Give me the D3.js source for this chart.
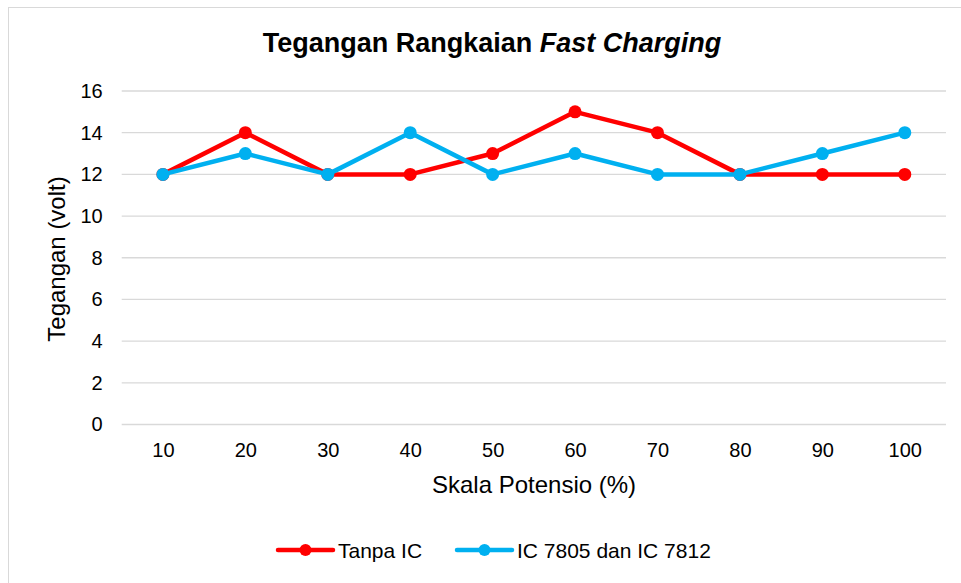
<!DOCTYPE html>
<html><head><meta charset="utf-8">
<script src="https://cdn.jsdelivr.net/npm/d3@7"></script>
<style>
html,body{margin:0;padding:0;background:#fff;}
svg{display:block;font-family:"Liberation Sans",Arial,sans-serif;}
</style></head>
<body>
<svg id="c" width="961" height="583"></svg>
<script>
const categories = ["10","20","30","40","50","60","70","80","90","100"];
const tanpaIC = [12,14,12,12,13,15,14,12,12,12];
const ic7805_7812 = [12,13,12,14,12,13,12,12,13,14];
const yTicks = [0,2,4,6,8,10,12,14,16];
const seriesNames = ["Tanpa IC","IC 7805 dan IC 7812"];
const colors = ["#ff0000","#00b0f0"];

const svg = d3.select("#c");
// outer frame
svg.append("rect").attr("x",8.5).attr("y",7.5).attr("width",965).attr("height",590)
  .attr("fill","#fff").attr("stroke","#d9d9d9").attr("stroke-width",1);

const L=121.7, R=946, T=91, B=424.5;
const x = d3.scalePoint().domain(categories).range([L,R]).padding(0.5);
const y = d3.scaleLinear().domain([0,16]).range([B,T]);

// gridlines
svg.append("g").selectAll("line").data(yTicks).join("line")
  .attr("x1",L).attr("x2",R).attr("y1",d=>y(d)).attr("y2",d=>y(d))
  .attr("stroke","#d9d9d9").attr("stroke-width",1.3);

// y axis
const ya = svg.append("g").attr("transform",`translate(${L},0)`)
  .call(d3.axisLeft(y).tickValues(yTicks).tickSize(0).tickPadding(19));
ya.select(".domain").remove();
ya.selectAll("text").attr("font-size",20).attr("fill","#000").attr("font-family","Liberation Sans, Arial, sans-serif");

// x axis
const xa = svg.append("g").attr("transform",`translate(0,${B})`)
  .call(d3.axisBottom(x).tickSize(0).tickPadding(18));
xa.select(".domain").remove();
xa.selectAll("text").attr("font-size",20).attr("fill","#000").attr("font-family","Liberation Sans, Arial, sans-serif");

// title
const title = svg.append("text").attr("x",492).attr("y",52).attr("text-anchor","middle")
  .attr("font-size",27).attr("font-weight","bold").attr("fill","#000");
title.append("tspan").text("Tegangan Rangkaian ");
title.append("tspan").attr("font-style","italic").text("Fast Charging");

// axis titles
svg.append("text").attr("x",534).attr("y",493).attr("text-anchor","middle")
  .attr("font-size",24).attr("fill","#000").text("Skala Potensio (%)");
svg.append("text").attr("transform","translate(65,259) rotate(-90)").attr("text-anchor","middle")
  .attr("font-size",24).attr("fill","#000").text("Tegangan (volt)");

// series
const series = [tanpaIC, ic7805_7812];
const line = d3.line().x((d,i)=>x(categories[i])).y(d=>y(d));
series.forEach((s,k)=>{
  const g = svg.append("g");
  g.append("path").datum(s).attr("d",line).attr("fill","none")
    .attr("stroke",colors[k]).attr("stroke-width",4.5).attr("stroke-linejoin","round").attr("stroke-linecap","round");
  g.selectAll("circle").data(s).join("circle")
    .attr("cx",(d,i)=>x(categories[i])).attr("cy",d=>y(d)).attr("r",6.5).attr("fill",colors[k]);
});

// legend
const legX = [278,457];
seriesNames.forEach((n,k)=>{
  const g = svg.append("g");
  g.append("line").attr("x1",legX[k]).attr("x2",legX[k]+55).attr("y1",550).attr("y2",550)
    .attr("stroke",colors[k]).attr("stroke-width",4.5).attr("stroke-linecap","round");
  g.append("circle").attr("cx",legX[k]+27.5).attr("cy",550).attr("r",6).attr("fill",colors[k]);
  g.append("text").attr("x",legX[k]+60).attr("y",557.5).attr("font-size",21).attr("fill","#000").text(n);
});
</script>
</body></html>
